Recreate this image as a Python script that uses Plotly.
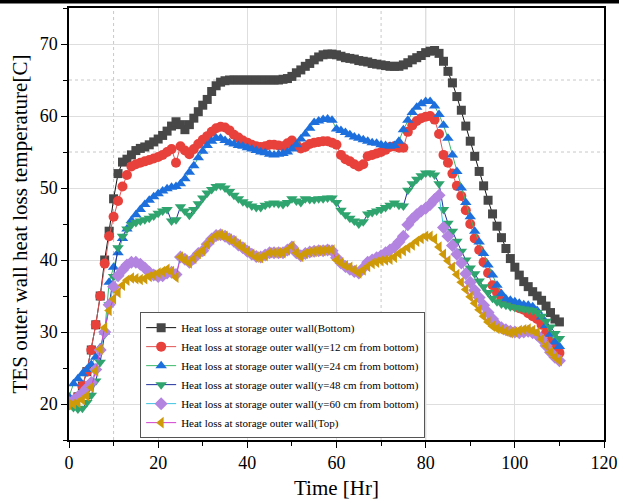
import plotly.graph_objects as go

time_hr = list(range(0, 111))

bottom = [20, 20.3, 21, 22.5, 24.5, 27.5, 31, 35, 40, 44, 48.5, 52, 53.6, 54, 54.6, 55.2, 55.5, 55.7, 56, 56.4,
          56.8, 57.3, 57.9, 58.6, 59.2, 58.8, 58.1, 58.8, 59.7, 60.6, 61.5, 62.3, 63.4, 64.2, 64.7, 64.9, 65, 65, 65, 65,
          65, 65, 65, 65, 65, 65, 65, 65, 65.1, 65.2, 65.5, 66, 66.4, 66.9, 67.3, 67.8, 68.2, 68.5, 68.6, 68.6,
          68.5, 68.3, 68.1, 68, 67.9, 67.7, 67.6, 67.5, 67.3, 67.2, 67.1, 67, 66.9, 66.9, 66.9, 67.1, 67.4, 67.8, 68.1, 68.4,
          68.8, 69, 69.1, 68.7, 67.6, 66.2, 64.6, 62.7, 60.8, 58.6, 56.5, 54.4, 52.3, 50.3, 48.3, 46.4, 44.7, 43.1, 41.6, 40.2,
          39, 37.9, 37, 36.3, 35.6, 35, 34.4, 33.6, 32.7, 31.8, 31.4]

y12 = [20, 20.2, 21, 22.5, 24.5, 27.5, 31, 35, 39.5, 43.3, 46, 48.2, 50.2, 51.8, 53, 53.3, 53.5, 53.7, 53.9, 54.1,
       54.3, 54.6, 55, 55.4, 53.5, 55.8, 55.2, 54.7, 55.4, 56.1, 56.7, 57.2, 57.8, 58.3, 58.5, 58.4, 58, 57.4, 57, 56.6,
       56.3, 56, 55.8, 55.7, 55.8, 56, 56, 55.9, 55.8, 56.2, 56.6, 56, 55.5, 55.7, 56.1, 56.3, 56.4, 56.5, 56.5, 56.3,
       56, 54.6, 54, 53.7, 53.3, 53, 53.3, 54.4, 54.6, 54.8, 55, 55.3, 55.7, 55.8, 55.6, 55.6, 57.8, 58.7, 59.3, 59.7,
       59.9, 60, 59.5, 57.5, 54.6, 53.5, 52, 50.3, 48.9, 46.9, 45, 43, 41.4, 39.7, 38.2, 36.5, 35.5, 34.7, 34.1, 33.9,
       33.6, 33.3, 33.1, 32.6, 32.2, 31.8, 31, 29.9, 28.7, 27.8, 27.1]

y24 = [21, 22.8, 23.5, 24.2, 24.8, 25.5, 26.5, 27.8, 30, 36.9, 39, 41, 43, 44.3, 45.5, 46.3, 47, 47.7, 48.3, 48.8,
       49.2, 49.6, 49.9, 50.1, 50.2, 50.6, 51.3, 52.2, 53.1, 54.2, 55.1, 55.9, 56.5, 56.9, 56.9, 56.6, 56.3, 56.1, 55.9, 55.8,
       55.6, 55.4, 55.2, 55, 54.9, 54.7, 54.6, 54.7, 54.8, 55, 55.4, 56, 56.8, 57.5, 58.3, 59.1, 59.3, 59.5, 59.6, 59.4,
       58.2, 58, 57.7, 57.4, 57.1, 56.9, 56.7, 56.5, 56.3, 56.2, 56, 55.9, 55.8, 55.9, 56.5, 58.1, 59.4, 60.5, 61.2, 61.7,
       62, 62, 61.4, 60.2, 58.7, 56.9, 54.6, 52.3, 50, 48, 46, 44, 42.5, 40.9, 39.3, 37.9, 36.5, 35.3, 34.6, 34.4,
       34.2, 34, 33.8, 33.7, 33.5, 33, 32.1, 30.9, 29.7, 28.6, 28]

y48 = [19.8, 19.5, 19.3, 19.4, 20.2, 21.2, 23.2, 25.8, 29.7, 33.8, 37.7, 41.7, 43.3, 44.3, 44.9, 45.2, 45.4, 45.6, 45.8, 46.1,
       46.5, 46.8, 47, 45.4, 45.6, 47.4, 46.8, 46.2, 47, 47.8, 48.6, 49.3, 49.8, 50.2, 50.3, 50, 49.5, 49, 48.5, 48.1,
       47.8, 47.5, 47.3, 47.3, 47.6, 47.8, 47.9, 47.8, 47.7, 48, 48.5, 48.2, 48, 48.5, 48.4, 48.4, 48.5, 48.5, 48.6, 48.6,
       48, 46.9, 46.3, 45.8, 45.4, 45, 45.3, 46.4, 46.6, 46.8, 47, 47.3, 47.6, 47.9, 47.6, 47.5, 49.7, 50.6, 51.2, 51.7,
       52.1, 52.1, 51.8, 50.6, 47, 45.1, 44, 42.6, 41.2, 40, 38.9, 38.1, 37.1, 36.3, 35.5, 34.7, 34.2, 33.9, 33.7, 33.5,
       33.4, 33.3, 33.2, 33.1, 33, 32.7, 32.2, 31.5, 30.7, 29.8, 29.1]

y60 = [20.2, 20.5, 21, 21.5, 22.2, 23, 24.8, 27.5, 30, 33.8, 36.3, 37.8, 38.6, 39.3, 39.7, 39.7, 39.4, 38.9, 38.3, 37.9,
       37.7, 37.8, 38.2, 38.3, 38, 40.4, 40.1, 39.7, 40.2, 40.9, 41.3, 42.2, 42.9, 43.4, 43.5, 43.3, 42.9, 42.6, 42.1, 41.7,
       41.2, 40.8, 40.5, 40.4, 40.7, 41, 41, 41, 41, 41.4, 41.8, 41, 40.6, 40.9, 41.1, 41.2, 41.3, 41.3, 41.4, 41.3,
       40.3, 39.6, 39.1, 38.7, 38.4, 38.2, 38.9, 39.7, 40, 40.3, 40.6, 41, 41.4, 41.8, 42.5, 43.3, 44.9, 45.7, 46.3, 46.8,
       47.2, 47.7, 48.4, 49, 44.5, 43.3, 42, 40.8, 39.6, 38.1, 36.9, 35.8, 34.8, 33.7, 32.7, 31.8, 31, 30.6, 30.3, 30.1,
       30, 29.9, 30, 30.1, 29.9, 29.6, 29, 28.1, 27.2, 26.5, 26]

top = [19.9, 20, 20.2, 20.6, 21.1, 22.3, 24.6, 27.6, 30.6, 33, 34.6, 35.5, 36.5, 37.2, 37.5, 37.4, 37.3, 37.4, 37.7, 37.9,
       38.2, 38.4, 38.7, 38.4, 37.6, 40.4, 40, 39.6, 40.2, 40.9, 41.3, 42.2, 42.9, 43.4, 43.5, 43.3, 42.9, 42.6, 42.1, 41.7,
       41.2, 40.8, 40.4, 40.3, 40.6, 41, 41, 41, 41, 41.4, 41.9, 41, 40.5, 40.9, 41.1, 41.2, 41.3, 41.3, 41.4, 41.4,
       40, 39.6, 39.2, 39, 38.6, 38.2, 38.6, 39.1, 39.5, 39.7, 39.9, 40, 40.1, 40.4, 40.9, 41.3, 41.7, 42.1, 42.6, 43,
       43.3, 43.3, 42.9, 41.8, 40.8, 39.9, 39, 38, 36.9, 35.9, 34.9, 34, 33.1, 32.2, 31.4, 30.8, 30.5, 30.3, 30.1, 29.9,
       30, 30.2, 30.3, 30.4, 30.2, 29.9, 29, 28.1, 27.2, 26.5, 26]

names = ["Heat loss at storage outer wall(Bottom)",
         "Heat loss at storage outer wall(y=12 cm from bottom)",
         "Heat loss at storage outer wall(y=24 cm from bottom)",
         "Heat loss at storage outer wall(y=48 cm from bottom)",
         "Heat loss at storage outer wall(y=60 cm from bottom)",
         "Heat loss at storage outer wall(Top)"]

series = [bottom, y12, y24, y48, y60, top]
marker_colors = ["#474747", "#e8413c", "#1c6fdc", "#2fa46e", "#b384e0", "#cf9a08"]
line_colors = ["#111111", "#e05555", "#3cb86a", "#1f2f9c", "#3cc3e0", "#d040d0"]
symbols = ["square", "circle", "triangle-up", "triangle-down", "diamond", "triangle-left"]
sizes = [9, 10, 10, 10, 10, 10]

fig = go.Figure()
for nm, ys, mc, lc, sym, sz in zip(names, series, marker_colors, line_colors, symbols, sizes):
    fig.add_trace(go.Scatter(
        x=time_hr, y=ys, name=nm, mode="lines+markers",
        line=dict(color=lc, width=1),
        marker=dict(symbol=sym, size=sz, color=mc, line=dict(width=0)),
    ))

font_family = "Liberation Serif"

shapes = []
# dotted grid accents
for xv in [10, 70]:
    shapes.append(dict(type="line", xref="x", yref="paper", x0=xv, x1=xv, y0=0, y1=1,
                       line=dict(color="#c8c8c8", width=1, dash="dot"), layer="below"))
for yv in [55, 65]:
    shapes.append(dict(type="line", xref="paper", yref="y", x0=0, x1=1, y0=yv, y1=yv,
                       line=dict(color="#c8c8c8", width=1, dash="dot"), layer="below"))
for xv in [60, 80]:
    shapes.append(dict(type="line", xref="x", yref="paper", x0=xv, x1=xv, y0=0, y1=1,
                       line=dict(color="#a8a8a8", width=1), layer="below"))
# page rule at very top
shapes.append(dict(type="rect", xref="paper", yref="paper", x0=-0.2, x1=1.1,
                   y0=1 + 4.5 / 432, y1=1 + 8.0 / 432, fillcolor="black", line=dict(width=0)))

fig.update_layout(
    width=619, height=502,
    margin=dict(l=69, r=15, t=8, b=62),
    paper_bgcolor="white", plot_bgcolor="white",
    font=dict(family=font_family, color="black", size=17),
    showlegend=True,
    legend=dict(
        x=0.133, y=0.296, xanchor="left", yanchor="top",
        bgcolor="white", bordercolor="#555555", borderwidth=1,
        font=dict(family=font_family, size=11, color="black"),
        tracegroupgap=0, itemwidth=30,
    ),
    shapes=shapes,
    xaxis=dict(
        range=[0, 120], dtick=20, tick0=0, automargin=False,
        showline=True, linecolor="black", linewidth=1.5, mirror=True,
        ticks="outside", ticklen=6, tickwidth=1.2, tickcolor="black",
        minor=dict(dtick=10, ticks="outside", ticklen=4, tickcolor="black", showgrid=False),
        showgrid=True, gridcolor="#dedede", gridwidth=1,
        zeroline=False,
        title=dict(text="Time [Hr]", font=dict(size=21, family=font_family), standoff=8),
        tickfont=dict(size=18, family=font_family),
    ),
    yaxis=dict(
        range=[15, 75], dtick=10, tick0=20, automargin=False,
        showline=True, linecolor="black", linewidth=1.5, mirror=True,
        ticks="outside", ticklen=6, tickwidth=1.2, tickcolor="black",
        minor=dict(dtick=5, ticks="outside", ticklen=4, tickcolor="black", showgrid=False),
        showgrid=True, gridcolor="#dedede", gridwidth=1,
        zeroline=False,
        title=dict(text="TES outer wall heat loss temperature[C]", font=dict(size=21, family=font_family), standoff=6),
        tickfont=dict(size=18, family=font_family),
    ),
)

fig.write_html("out.html", config={"displayModeBar": False},
               post_script="document.body.style.margin='0';")
